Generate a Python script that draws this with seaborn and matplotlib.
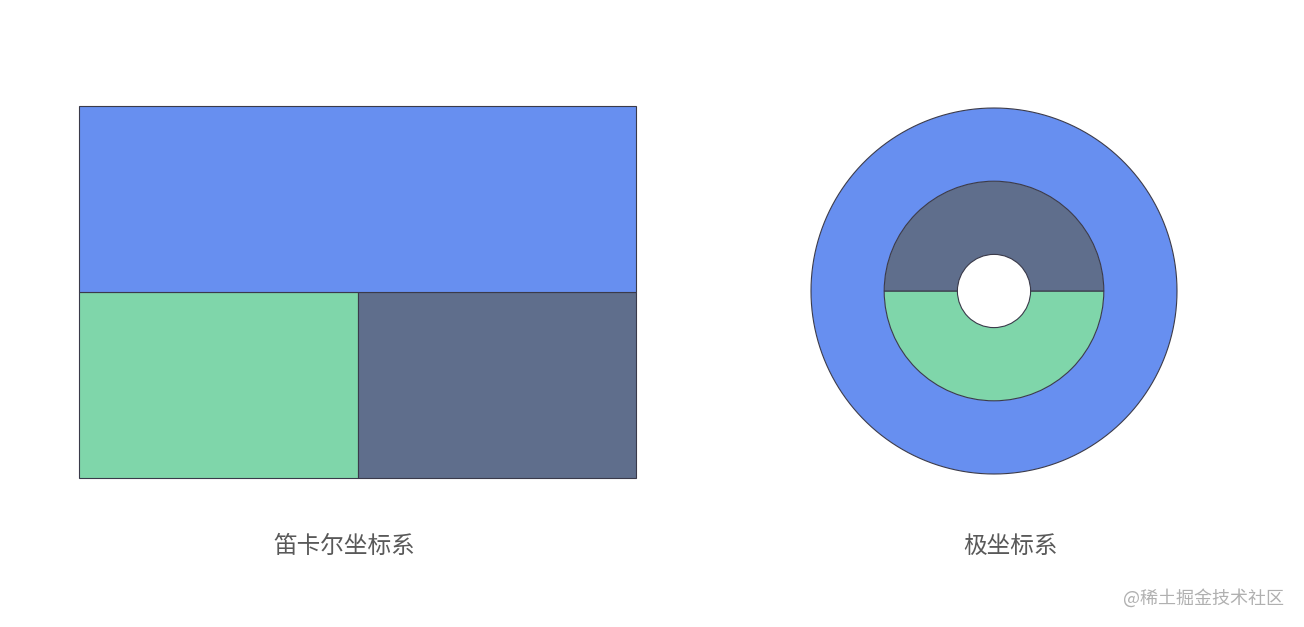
import numpy as np
import matplotlib
matplotlib.use("Agg")
import matplotlib.pyplot as plt
import seaborn as sns

# data: one top bar spanning both columns, two bars underneath
columns = ["a", "b"]
lower_values = [1, 1]
upper_value = 1
lower_colors = ["#7fd6aa", "#5f6e8c"]
upper_color = "#678ff0"
titles = ["笛卡尔坐标系", "极坐标系"]
watermark = "@稀土掘金技术社区"
inner_offset = 0.5  # radius of the hole in polar view, in data units

sns.set_theme(style="white")
plt.rcParams["font.family"] = ["Noto Sans CJK SC", "DejaVu Sans"]

edge = "#3a3a4a"
lw = 0.8

fig = plt.figure(figsize=(13.04, 6.27), dpi=100)
fig.patch.set_facecolor("white")

# Cartesian
ax1 = fig.add_axes([79 / 1304, 149 / 627, 557 / 1304, 372 / 627])
n = len(columns)
xs = np.arange(n)
bars = ax1.bar(xs, lower_values, width=1, align="edge", color=lower_colors,
               edgecolor=edge, linewidth=lw)
top = ax1.bar(0, upper_value, width=n, align="edge", bottom=max(lower_values),
              color=upper_color, edgecolor=edge, linewidth=lw)
for p in list(bars) + list(top):
    p.set_clip_on(False)
ax1.set_xlim(0, n)
ax1.set_ylim(0, max(lower_values) + upper_value)
ax1.set_axis_off()

# Polar: x -> angle, y -> radius
ax2 = fig.add_axes([811 / 1304, 153 / 627, 366 / 1304, 366 / 627], projection="polar")
ax2.set_theta_offset(np.pi)
step = 2 * np.pi / n
ax2.bar(xs * step, lower_values, width=step, align="edge", bottom=inner_offset,
        color=lower_colors, edgecolor=edge, linewidth=lw, zorder=3)
r0 = inner_offset + max(lower_values)
r1 = r0 + upper_value
ax2.bar(0, upper_value, width=2 * np.pi, align="edge", bottom=r0,
        color=upper_color, edgecolor="none", zorder=2)
ring = np.linspace(0, 2 * np.pi, 721)
ax2.plot(ring, np.full_like(ring, r1), color=edge, lw=lw, zorder=4,
         clip_on=False, solid_capstyle="butt", solid_joinstyle="round")
ax2.set_ylim(0, r1)
ax2.set_axis_off()

text_color = "#595959"
fig.text(344 / 1304, 1 - 546 / 627, titles[0], ha="center", va="center",
         fontsize=17, color=text_color)
fig.text(1010 / 1304, 1 - 546 / 627, titles[1], ha="center", va="center",
         fontsize=17, color=text_color)
fig.text(1284 / 1304, 1 - 598 / 627, watermark, ha="right", va="center",
         fontsize=13, color="#b0b0b0")

fig.savefig("out.png", dpi=100, facecolor="white")
